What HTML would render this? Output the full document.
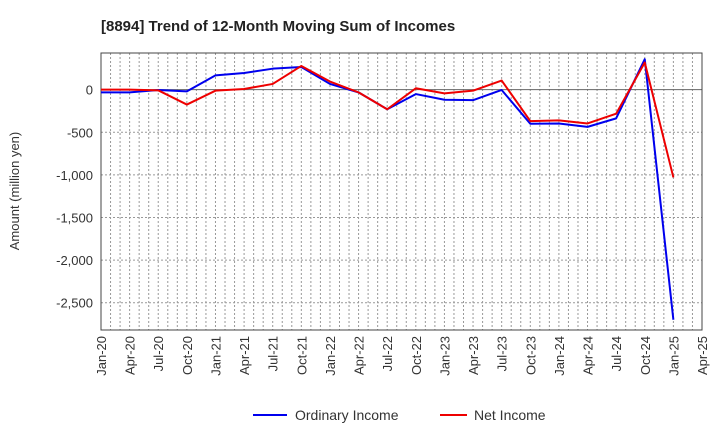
<!DOCTYPE html>
<html><head><meta charset="utf-8"><style>
body{margin:0;background:#fff;font-family:"Liberation Sans",sans-serif}
svg text{font-family:"Liberation Sans",sans-serif}
</style></head><body>
<svg id="chart" width="720" height="440" xmlns="http://www.w3.org/2000/svg">
<text x="101" y="31" font-size="15" font-weight="bold" fill="#222">[8894]  Trend of 12-Month Moving Sum of Incomes</text>
<g id="grid"></g>
<g id="axes"></g>
<g id="series"></g>
<text transform="translate(19,191) rotate(-90)" text-anchor="middle" font-size="13" fill="#333">Amount (million yen)</text>
<g>
<line x1="253" y1="415" x2="287" y2="415" stroke="#0000ee" stroke-width="2"/>
<text x="295" y="420" font-size="14" fill="#333">Ordinary Income</text>
<line x1="440" y1="415" x2="467" y2="415" stroke="#ee0000" stroke-width="2"/>
<text x="474" y="420" font-size="14" fill="#333">Net Income</text>
</g>
</svg>
<script>
const xLabels=["Jan-20","Apr-20","Jul-20","Oct-20","Jan-21","Apr-21","Jul-21","Oct-21","Jan-22","Apr-22","Jul-22","Oct-22","Jan-23","Apr-23","Jul-23","Oct-23","Jan-24","Apr-24","Jul-24","Oct-24","Jan-25","Apr-25"];
const yTicks=[0,-500,-1000,-1500,-2000,-2500];
const yTickLabels=["0","-500","-1,000","-1,500","-2,000","-2,500"];
const ordinaryIncome=[-32,-32,-4,-20,167,195,246,266,67,-32,-230,-52,-119,-123,-4,-400,-397,-437,-337,357,-2700];
const netIncome=[0,0,-8,-175,-12,8,67,278,95,-32,-230,16,-44,-12,107,-369,-361,-397,-282,318,-1030];
const L=101,R=702,T=53,B=330,yMax=430,yMin=-2820;
const ns="http://www.w3.org/2000/svg";
function xs(i){return L+(R-L)*i/(xLabels.length-1);}
function ys(v){return T+(yMax-v)/(yMax-yMin)*(B-T);}
function mk(p,tag,a){const e=document.createElementNS(ns,tag);for(const k in a)e.setAttribute(k,a[k]);p.appendChild(e);return e;}
const grid=document.getElementById('grid'),axes=document.getElementById('axes'),series=document.getElementById('series');
for(let m=1;m<(xLabels.length-1)*3;m++){
 const x=L+(R-L)*m/((xLabels.length-1)*3);
 const g=mk(grid,'line',{x1:x,y1:T,x2:x,y2:B,stroke:'#999','stroke-dasharray':'2,2','stroke-width':1});
 
 
}
yTicks.forEach((v,i)=>{
 const y=ys(v);
 const g=mk(grid,'line',{x1:L,y1:y,x2:R,y2:y,stroke:v===0?'#666':'#999','stroke-dasharray':v===0?'none':'2,2','stroke-width':1});
 
 
 const t=mk(axes,'text',{x:L-8,y:y+5,'text-anchor':'end','font-size':13,fill:'#333'});
 t.textContent=yTickLabels[i];
 
 
});
const frame=mk(axes,'rect',{x:L,y:T,width:R-L,height:B-T,fill:'none',stroke:'#444','stroke-width':1});


xLabels.forEach((lb,i)=>{
 const x=xs(i);
 const t=mk(axes,'text',{transform:`translate(${x+5},336) rotate(-90)`,'text-anchor':'end','font-size':13,fill:'#333'});
 t.textContent=lb;
 
 
});
function line(data,color,name){
 const p=mk(series,'polyline',{points:data.map((v,i)=>xs(i)+','+ys(v)).join(' '),fill:'none',stroke:color,'stroke-width':2,'stroke-linejoin':'round'});
 
 
}
line(ordinaryIncome,'#0000ee','ordinary-income-line');
line(netIncome,'#ee0000','net-income-line');
</script>
</body></html>
